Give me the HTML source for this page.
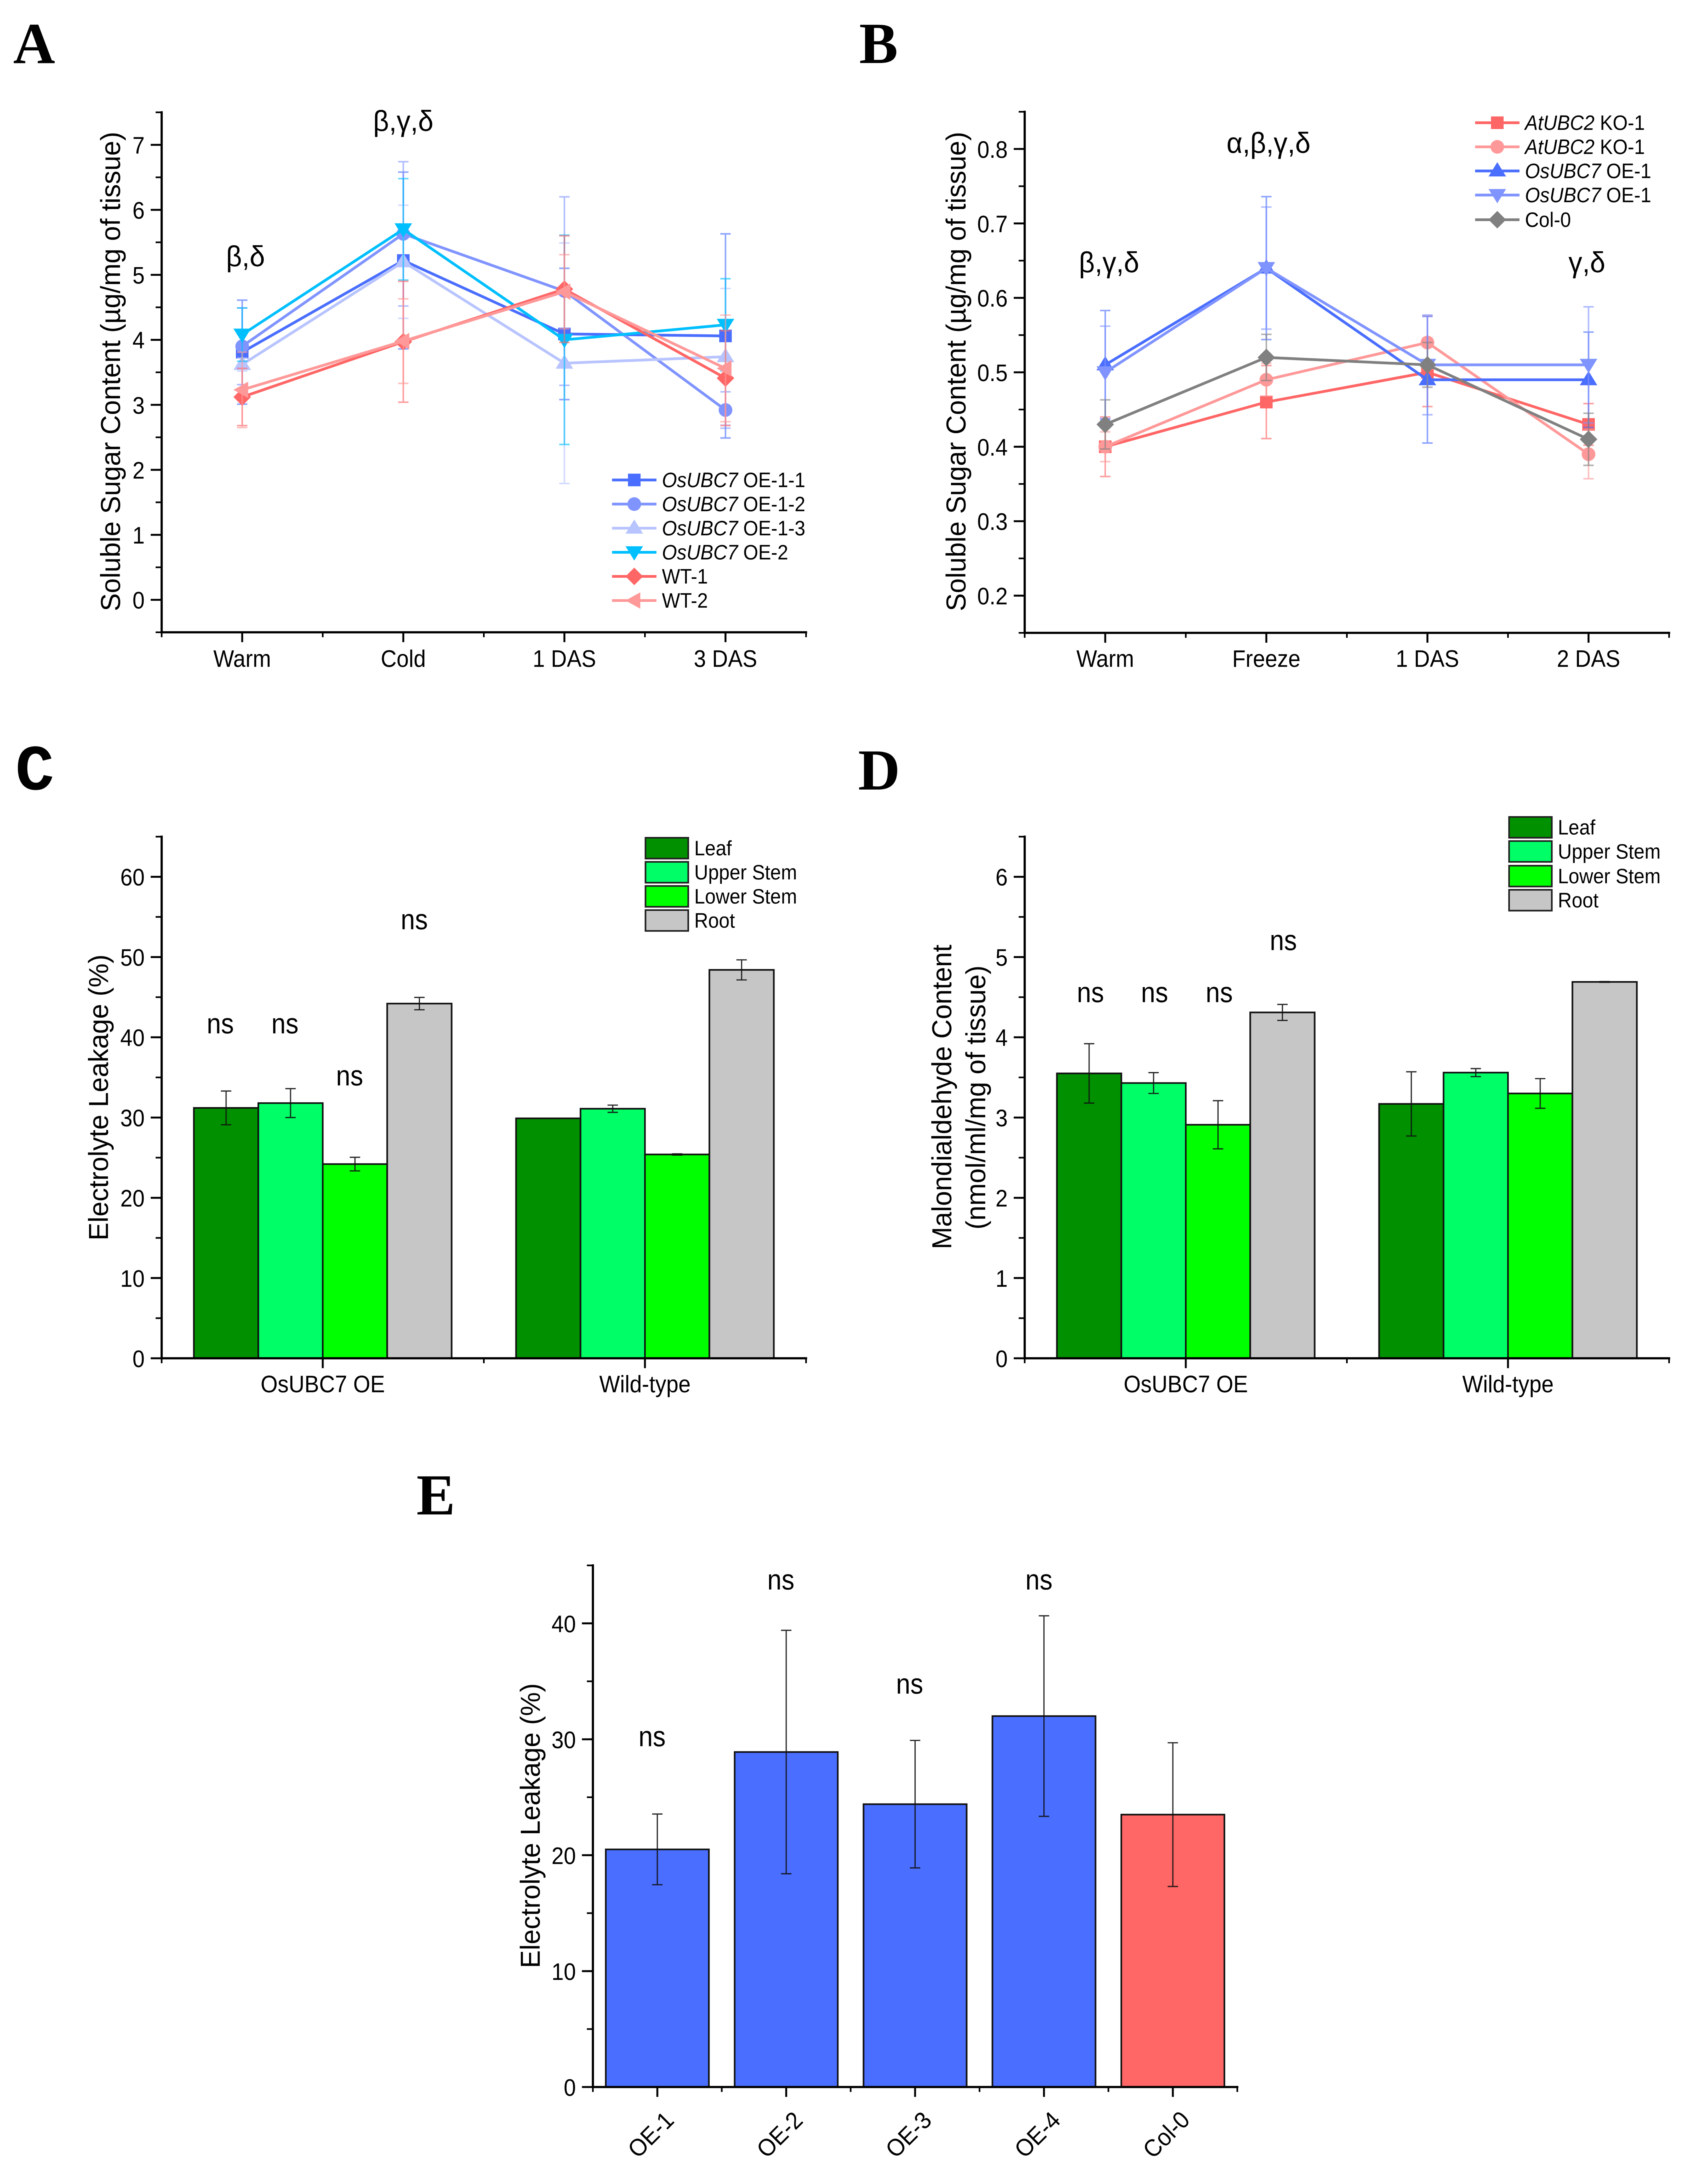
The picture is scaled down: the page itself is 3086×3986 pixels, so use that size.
<!DOCTYPE html>
<html lang="en">
<head>
<meta charset="utf-8">
<title>Sugar content, electrolyte leakage and malondialdehyde panels</title>
<style>
html,body{margin:0;padding:0;background:#fff;}
body{width:3086px;height:3986px;overflow:hidden;}
svg{display:block;filter:blur(0.9px);font-family:"Liberation Sans",Arial,sans-serif;fill:#000;}
.letter{font-family:"Liberation Serif",serif;font-weight:bold;font-size:106px;}
.letter-mono{font-family:"Liberation Mono",monospace;font-weight:bold;font-size:118px;}
</style>
</head>
<body>
<svg id="figure" xmlns="http://www.w3.org/2000/svg" width="3086" height="3986" viewBox="0 0 3086 3986">
  <rect width="3086" height="3986" fill="#fff"/>

  <g id="panel-a">
    <text class="letter" x="24" y="115">A</text>
    <text transform="translate(219 678) rotate(-90)" font-size="50" text-anchor="middle" textLength="875" lengthAdjust="spacingAndGlyphs">Soluble Sugar Content (µg/mg of tissue)</text>
    <text transform="translate(448 486) scale(.95 1)" font-size="53" text-anchor="middle">β,δ</text>
    <text transform="translate(736 239) scale(.95 1)" font-size="53" text-anchor="middle">β,γ,δ</text>
  </g>

  <g id="panel-b">
    <text class="letter" x="1568" y="115">B</text>
    <text transform="translate(1762 678) rotate(-90)" font-size="50" text-anchor="middle" textLength="875" lengthAdjust="spacingAndGlyphs">Soluble Sugar Content (µg/mg of tissue)</text>
    <text transform="translate(2024 497) scale(.95 1)" font-size="53" text-anchor="middle">β,γ,δ</text>
    <text transform="translate(2315 279) scale(.95 1)" font-size="53" text-anchor="middle">α,β,γ,δ</text>
    <text transform="translate(2896 497) scale(.95 1)" font-size="53" text-anchor="middle">γ,δ</text>
  </g>

  <g id="panel-c">
    <text class="letter-mono" x="28" y="1441">C</text>
    <text transform="translate(197 2003) rotate(-90)" font-size="50" text-anchor="middle" textLength="522" lengthAdjust="spacingAndGlyphs">Electrolyte Leakage (%)</text>
    <text transform="translate(402 1886) scale(.9 1)" font-size="52" text-anchor="middle">ns</text>
    <text transform="translate(520 1886) scale(.9 1)" font-size="52" text-anchor="middle">ns</text>
    <text transform="translate(638 1981) scale(.9 1)" font-size="52" text-anchor="middle">ns</text>
    <text transform="translate(756 1696) scale(.9 1)" font-size="52" text-anchor="middle">ns</text>
  </g>

  <g id="panel-d">
    <text class="letter" x="1566" y="1441">D</text>
    <text transform="translate(1736 2002) rotate(-90)" font-size="50" text-anchor="middle" textLength="556" lengthAdjust="spacingAndGlyphs">Malondialdehyde Content</text>
    <text transform="translate(1798 2003) rotate(-90)" font-size="50" text-anchor="middle" textLength="482" lengthAdjust="spacingAndGlyphs">(nmol/ml/mg of tissue)</text>
    <text transform="translate(1990 1829) scale(.9 1)" font-size="52" text-anchor="middle">ns</text>
    <text transform="translate(2107 1829) scale(.9 1)" font-size="52" text-anchor="middle">ns</text>
    <text transform="translate(2225 1829) scale(.9 1)" font-size="52" text-anchor="middle">ns</text>
    <text transform="translate(2342 1734) scale(.9 1)" font-size="52" text-anchor="middle">ns</text>
  </g>

  <g id="panel-e">
    <text class="letter" x="760" y="2764">E</text>
    <text transform="translate(985 3332) rotate(-90)" font-size="50" text-anchor="middle" textLength="520" lengthAdjust="spacingAndGlyphs">Electrolyte Leakage (%)</text>
    <text transform="translate(1190 3187) scale(.9 1)" font-size="52" text-anchor="middle">ns</text>
    <text transform="translate(1425 2901) scale(.9 1)" font-size="52" text-anchor="middle">ns</text>
    <text transform="translate(1660 3091) scale(.9 1)" font-size="52" text-anchor="middle">ns</text>
    <text transform="translate(1896 2901) scale(.9 1)" font-size="52" text-anchor="middle">ns</text>
  </g>
</svg>

<script>
// ---------- Panel A data ----------
const aCategories = ['Warm', 'Cold', '1 DAS', '3 DAS'];
const aTickLabels = ['0', '1', '2', '3', '4', '5', '6', '7'];
const aOE11 = [3.81, 5.22, 4.09, 4.06];
const aOE11Err = [0.80, 1.36, 1.01, 1.57];
const aOE12 = [3.90, 5.63, 4.75, 2.92];
const aOE12Err = [0.59, 1.11, 1.45, 0.28];
const aOE13 = [3.62, 5.20, 3.64, 3.74];
const aOE13Err = [0.10, 0.87, 1.85, 1.05];
const aOE2 = [4.08, 5.70, 4.00, 4.23];
const aOE2Err = [0.41, 0.78, 1.61, 0.71];
const aWT1 = [3.12, 3.97, 4.78, 3.41];
const aWT1Err = [0.44, 0.93, 0.82, 0.73];
const aWT2 = [3.23, 3.98, 4.74, 3.56];
const aWT2Err = [0.58, 0.65, 0.57, 0.82];

// ---------- Panel B data ----------
const bCategories = ['Warm', 'Freeze', '1 DAS', '2 DAS'];
const bTickLabels = ['0.2', '0.3', '0.4', '0.5', '0.6', '0.7', '0.8'];
const bKO1 = [0.40, 0.46, 0.50, 0.43];
const bKO1Err = [0.040, 0.049, 0.046, 0.028];
const bKO2 = [0.40, 0.49, 0.54, 0.39];
const bKO2Err = [0.020, 0.022, 0.036, 0.033];
const bOE1 = [0.51, 0.64, 0.49, 0.49];
const bOE1Err = [0.073, 0.096, 0.085, 0.064];
const bOE2 = [0.50, 0.64, 0.51, 0.51];
const bOE2Err = [0.062, 0.082, 0.067, 0.078];
const bCol0 = [0.43, 0.52, 0.51, 0.41];
const bCol0Err = [0.033, 0.031, 0.030, 0.035];

// ---------- Panel C data ----------
const cCategories = ['OsUBC7 OE', 'Wild-type'];
const cTickLabels = ['0', '10', '20', '30', '40', '50', '60'];
const cLeaf = [31.2, 29.9];
const cLeafErr = [2.1, 0];
const cUpper = [31.8, 31.1];
const cUpperErr = [1.8, 0.45];
const cLower = [24.2, 25.4];
const cLowerErr = [0.85, 0.08];
const cRoot = [44.2, 48.4];
const cRootErr = [0.77, 1.25];

// ---------- Panel D data ----------
const dCategories = ['OsUBC7 OE', 'Wild-type'];
const dTickLabels = ['0', '1', '2', '3', '4', '5', '6'];
const dLeaf = [3.55, 3.17];
const dLeafErr = [0.37, 0.40];
const dUpper = [3.43, 3.56];
const dUpperErr = [0.13, 0.05];
const dLower = [2.91, 3.30];
const dLowerErr = [0.30, 0.185];
const dRoot = [4.31, 4.69];
const dRootErr = [0.10, 0.005];

// ---------- Panel E data ----------
const eCategories = ['OE-1', 'OE-2', 'OE-3', 'OE-4', 'Col-0'];
const eTickLabels = ['0', '10', '20', '30', '40'];
const eValues = [20.5, 28.9, 24.4, 32.0, 23.5];
const eErrors = [3.05, 10.5, 5.5, 8.65, 6.2];

// ---------- Legend labels ----------
const aLegendItalic = ['OsUBC7', 'OsUBC7', 'OsUBC7', 'OsUBC7', '', ''];
const aLegendPlain = [' OE-1-1', ' OE-1-2', ' OE-1-3', ' OE-2', 'WT-1', 'WT-2'];
const bLegendItalic = ['AtUBC2', 'AtUBC2', 'OsUBC7', 'OsUBC7', ''];
const bLegendPlain = [' KO-1', ' KO-1', ' OE-1', ' OE-1', 'Col-0'];
const organLabels = ['Leaf', 'Upper Stem', 'Lower Stem', 'Root'];

// ---------- Styles ----------
const BLUE = '#4a6eff', BLUE2 = '#8094ff', BLUE3 = '#b8c4ff', CYAN = '#00bfff';
const RED = '#ff6666', RED2 = '#ff9999', GREY = '#808080';
const ORGAN_COLORS = ['#009000', '#00ff66', '#00ff00', '#c6c6c6'];
const NS = 'http://www.w3.org/2000/svg';

function add(parent, tag, attrs) {
  const el = document.createElementNS(NS, tag);
  for (const k in attrs) el.setAttribute(k, attrs[k]);
  parent.appendChild(el);
  return el;
}

function makeAxes(cfg) {
  const span = cfg.bottom - cfg.top;
  cfg.y = v => cfg.bottom - (v - cfg.ymin) / (cfg.ymax - cfg.ymin) * span;
  cfg.step = (cfg.right - cfg.left) / cfg.categories.length;
  cfg.x = i => cfg.left + (i + 0.5) * cfg.step;
  return cfg;
}

function drawAxes(cfg) {
  const g = add(cfg.root, 'g', {});
  
  

  const yLine = add(g, 'line', {x1: cfg.left, x2: cfg.left, y1: cfg.top - 2, y2: cfg.bottom + 2, stroke: '#000', 'stroke-width': 4});
  
  
  const xLine = add(g, 'line', {x1: cfg.left - 2, x2: cfg.right + 2, y1: cfg.bottom, y2: cfg.bottom, stroke: '#000', 'stroke-width': 4});
  
  

  // y minor ticks
  const nMinor = Math.round((cfg.ymax - cfg.ymin) / cfg.minorStep);
  for (let i = 0; i <= nMinor; i++) {
    const yy = cfg.y(cfg.ymin + i * cfg.minorStep);
    const t = add(g, 'line', {x1: cfg.left - 11, x2: cfg.left, y1: yy, y2: yy, stroke: '#000', 'stroke-width': 3});
    
    
  }
  // y major ticks and labels
  cfg.tickLabels.forEach(label => {
    const yy = cfg.y(parseFloat(label));
    const t = add(g, 'line', {x1: cfg.left - 20, x2: cfg.left, y1: yy, y2: yy, stroke: '#000', 'stroke-width': 3.5});
    
    
    const txt = add(g, 'text', {transform: 'translate(' + (cfg.left - 31) + ' ' + (yy + 16) + ') scale(.91 1)', 'font-size': 44, 'text-anchor': 'end'});
    txt.textContent = label;
    
    
  });
  // x ticks and labels
  for (let i = 0; i <= cfg.categories.length; i++) {
    const xx = cfg.left + i * cfg.step;
    const t = add(g, 'line', {x1: xx, x2: xx, y1: cfg.bottom, y2: cfg.bottom + 9, stroke: '#000', 'stroke-width': 3});
    
    
  }
  cfg.categories.forEach((label, i) => {
    const xx = cfg.x(i);
    const t = add(g, 'line', {x1: xx, x2: xx, y1: cfg.bottom, y2: cfg.bottom + 18, stroke: '#000', 'stroke-width': 3.5});
    
    
    let tf;
    if (cfg.rotateLabels) {
      tf = 'translate(' + (xx - 12) + ' 3896) rotate(-45) scale(.94 1) translate(0 15)';
    } else {
      tf = 'translate(' + xx + ' ' + (cfg.bottom + cfg.labelGap) + ') scale(.91 1)';
    }
    const txt = add(g, 'text', {transform: tf, 'font-size': 44, 'text-anchor': 'middle'});
    txt.textContent = label;
    
    
  });
}

function drawMarker(parent, kind, x, y, color) {
  let el;
  const pts = list => list.map(p => (x + p[0]) + ',' + (y + p[1])).join(' ');
  if (kind === 'square') {
    el = add(parent, 'rect', {x: x - 11.5, y: y - 11.5, width: 23, height: 23, fill: color});
  } else if (kind === 'circle') {
    el = add(parent, 'circle', {cx: x, cy: y, r: 12.5, fill: color});
  } else if (kind === 'up') {
    el = add(parent, 'polygon', {points: pts([[0, -16], [16, 10], [-16, 10]]), fill: color});
  } else if (kind === 'down') {
    el = add(parent, 'polygon', {points: pts([[0, 15], [16, -11], [-16, -11]]), fill: color});
  } else if (kind === 'diamond') {
    el = add(parent, 'polygon', {points: pts([[0, -16], [16, 0], [0, 16], [-16, 0]]), fill: color});
  } else {
    el = add(parent, 'polygon', {points: pts([[-16, 0], [11, -15], [11, 15]]), fill: color});
  }
  return el;
}

function drawErrorBar(parent, x, top, bottom, color, width, opacity) {
  const g = add(parent, 'g', {stroke: color, 'stroke-width': width, opacity: opacity});
  
  
  add(g, 'line', {x1: x, x2: x, y1: top, y2: bottom});
  add(g, 'line', {x1: x - 9.5, x2: x + 9.5, y1: top, y2: top});
  add(g, 'line', {x1: x - 9.5, x2: x + 9.5, y1: bottom, y2: bottom});
}

function drawLineSeries(cfg, name, values, errors, color, marker) {
  const g = add(cfg.root, 'g', {});
  
  
  const path = add(g, 'polyline', {
    points: values.map((v, i) => cfg.x(i) + ',' + cfg.y(v)).join(' '),
    fill: 'none', stroke: color, 'stroke-width': 5
  });
  
  
  values.forEach((v, i) => {
    const m = drawMarker(g, marker, cfg.x(i), cfg.y(v), color);
    
    
  });
  values.forEach((v, i) => {
    drawErrorBar(g, cfg.x(i), cfg.y(v + errors[i]), cfg.y(v - errors[i]), color, 2.8, 0.62);
  });
}

function drawBar(cfg, name, x, w, value, error, color) {
  const bar = add(cfg.root, 'rect', {x: x, y: cfg.y(value), width: w, height: cfg.y(0) - cfg.y(value), fill: color, stroke: '#111', 'stroke-width': 3});
  
  
  if (error > 0) {
    drawErrorBar(cfg.root, x + w / 2, cfg.y(value + error), cfg.y(value - error), '#111', 2.2, 0.9);
  }
}

function drawGroupedBars(cfg, seriesList) {
  const groupWidth = cfg.step * 0.8;
  const barWidth = groupWidth / seriesList.length;
  seriesList.forEach((s, k) => {
    s.values.forEach((v, i) => {
      const left = cfg.x(i) - groupWidth / 2 + k * barWidth;
      drawBar(cfg, s.name + '-' + cfg.categories[i], left, barWidth, v, s.errors[i], ORGAN_COLORS[k]);
    });
  });
}

function legendLabel(parent, x, y, italic, plain) {
  const txt = add(parent, 'text', {transform: 'translate(' + x + ' ' + y + ') scale(.925 1)', 'font-size': 38});
  txt.setAttribute('xml:space', 'preserve');
  txt.style.whiteSpace = 'pre';
  if (italic) {
    const it = add(txt, 'tspan', {'font-style': 'italic'});
    it.textContent = italic;
  }
  const pl = add(txt, 'tspan', {});
  pl.textContent = plain;
  return txt;
}

function drawLineLegend(root, x0, rowYs, italics, plains, colors, markers) {
  const g = add(root, 'g', {});
  
  
  italics.forEach((it, i) => {
    const row = add(g, 'g', {});
    
    
    const y = rowYs[i];
    add(row, 'line', {x1: x0, x2: x0 + 81, y1: y, y2: y, stroke: colors[i], 'stroke-width': 5});
    drawMarker(row, markers[i], x0 + 40.5, y, colors[i]);
    legendLabel(row, x0 + 91, y + 13, it, plains[i]);
  });
}

function drawSwatchLegend(root, x0, rowTops) {
  const g = add(root, 'g', {});
  
  
  organLabels.forEach((label, i) => {
    const row = add(g, 'g', {});
    
    
    add(row, 'rect', {x: x0, y: rowTops[i], width: 78, height: 38, fill: ORGAN_COLORS[i], stroke: '#222', 'stroke-width': 3});
    const t = legendLabel(row, x0 + 89, rowTops[i] + 32, '', label);
    
    
  });
}

// ---------- Panel A ----------
const cfgA = makeAxes({root: document.getElementById('panel-a'), left: 295, right: 1471, top: 205, bottom: 1154,
  ymin: -0.5, ymax: 7.5, minorStep: 0.5, tickLabels: aTickLabels, categories: aCategories, labelGap: 63});
drawLineSeries(cfgA, 'oe-1-1', aOE11, aOE11Err, BLUE, 'square');
drawLineSeries(cfgA, 'oe-1-2', aOE12, aOE12Err, BLUE2, 'circle');
drawLineSeries(cfgA, 'oe-1-3', aOE13, aOE13Err, BLUE3, 'up');
drawLineSeries(cfgA, 'oe-2', aOE2, aOE2Err, CYAN, 'down');
drawLineSeries(cfgA, 'wt-1', aWT1, aWT1Err, RED, 'diamond');
drawLineSeries(cfgA, 'wt-2', aWT2, aWT2Err, RED2, 'left');
drawAxes(cfgA);
drawLineLegend(cfgA.root, 1117, [876, 920, 964, 1008, 1052, 1096], aLegendItalic, aLegendPlain,
  [BLUE, BLUE2, BLUE3, CYAN, RED, RED2], ['square', 'circle', 'up', 'down', 'diamond', 'left']);

// ---------- Panel B ----------
const cfgB = makeAxes({root: document.getElementById('panel-b'), left: 1870, right: 3046, top: 204, bottom: 1155,
  ymin: 0.15, ymax: 0.85, minorStep: 0.05, tickLabels: bTickLabels, categories: bCategories, labelGap: 62});
drawLineSeries(cfgB, 'atubc2-ko-1-a', bKO1, bKO1Err, RED, 'square');
drawLineSeries(cfgB, 'atubc2-ko-1-b', bKO2, bKO2Err, RED2, 'circle');
drawLineSeries(cfgB, 'osubc7-oe-1-a', bOE1, bOE1Err, BLUE, 'up');
drawLineSeries(cfgB, 'osubc7-oe-1-b', bOE2, bOE2Err, BLUE2, 'down');
drawLineSeries(cfgB, 'col-0', bCol0, bCol0Err, GREY, 'diamond');
drawAxes(cfgB);
drawLineLegend(cfgB.root, 2692, [224, 268, 312, 356, 401], bLegendItalic, bLegendPlain,
  [RED, RED2, BLUE, BLUE2, GREY], ['square', 'circle', 'up', 'down', 'diamond']);

// ---------- Panel C ----------
const cfgC = makeAxes({root: document.getElementById('panel-c'), left: 295, right: 1471, top: 1527, bottom: 2479,
  ymin: 0, ymax: 65, minorStep: 5, tickLabels: cTickLabels, categories: cCategories, labelGap: 62});
drawGroupedBars(cfgC, [
  {name: 'leaf', values: cLeaf, errors: cLeafErr},
  {name: 'upper-stem', values: cUpper, errors: cUpperErr},
  {name: 'lower-stem', values: cLower, errors: cLowerErr},
  {name: 'root', values: cRoot, errors: cRootErr}
]);
drawAxes(cfgC);
drawSwatchLegend(cfgC.root, 1178, [1529, 1573, 1617, 1661]);

// ---------- Panel D ----------
const cfgD = makeAxes({root: document.getElementById('panel-d'), left: 1870, right: 3046, top: 1527, bottom: 2479,
  ymin: 0, ymax: 6.5, minorStep: 0.5, tickLabels: dTickLabels, categories: dCategories, labelGap: 62});
drawGroupedBars(cfgD, [
  {name: 'leaf', values: dLeaf, errors: dLeafErr},
  {name: 'upper-stem', values: dUpper, errors: dUpperErr},
  {name: 'lower-stem', values: dLower, errors: dLowerErr},
  {name: 'root', values: dRoot, errors: dRootErr}
]);
drawAxes(cfgD);
drawSwatchLegend(cfgD.root, 2754, [1491, 1535, 1580, 1624]);

// ---------- Panel E ----------
const cfgE = makeAxes({root: document.getElementById('panel-e'), left: 1082, right: 2258, top: 2857, bottom: 3809,
  ymin: 0, ymax: 45, minorStep: 5, tickLabels: eTickLabels, categories: eCategories, rotateLabels: true, labelGap: 62});
eValues.forEach((v, i) => {
  const w = cfgE.step * 0.8;
  const color = eCategories[i] === 'Col-0' ? RED : BLUE;
  drawBar(cfgE, eCategories[i], cfgE.x(i) - w / 2, w, v, eErrors[i], color);
});
drawAxes(cfgE);
</script>
</body>
</html>
